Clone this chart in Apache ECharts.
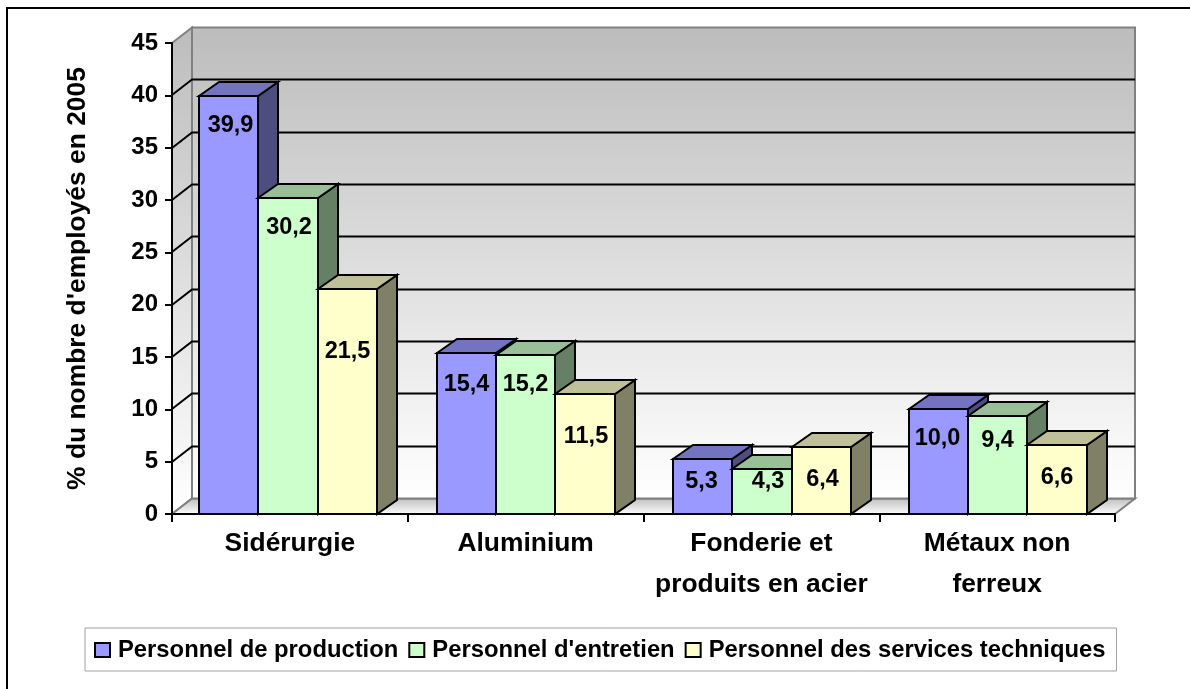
<!DOCTYPE html>
<html>
<head>
<meta charset="utf-8">
<style>html,body{margin:0;padding:0;background:#fff;overflow:hidden}#c{width:1190px;height:689px}</style>
<script src="https://cdn.jsdelivr.net/npm/echarts@6/dist/echarts.min.js"></script>
</head>
<body>
<div id="c"></div>
<script>
const categories = ['Sidérurgie', 'Aluminium', 'Fonderie et\nproduits en acier', 'Métaux non\nferreux'];
const seriesNames = ['Personnel de production', "Personnel d'entretien", 'Personnel des services techniques'];
const production = [39.9, 15.4, 5.3, 10.0];
const entretien = [30.2, 15.2, 4.3, 9.4];
const services = [21.5, 11.5, 6.4, 6.6];
const gridValues = [5, 10, 15, 20, 25, 30, 35, 40];
const axisTitle = "% du nombre d'employés en 2005";

const FONT = '"Liberation Sans", Arial, sans-serif';
const faces = [
  { front: '#9999FF', top: '#7373BF', side: '#4D4D80' },
  { front: '#CCFFCC', top: '#99BF99', side: '#668066' },
  { front: '#FFFFCC', top: '#BFBF99', side: '#808066' }
];
// distance in px from a bar's top to the middle of its value label, per category then series
const labelDrop = [[30, 30, 63], [32, 30, 43], [23, 13, 33], [30, 25, 33]];
// sideways nudges (px) of value labels and bar groups, layout only
const labelNudge = [[2, 1, 0], [0, 0, 1], [-1, 6, 1], [-1, 0, 0]];
const groupShift = [-1.9, 0.2, 0.7, 0.7];
const BAR_W = 59.2, DX = 20, DY = 14, WALL_DX = 20, WALL_DY = 15.5;

function wallItem(params, api) {
  const c = params.coordSys;
  const l = c.x, r = c.x + c.width, t = c.y, b = c.y + c.height;
  const fade = { type: 'linear', x: 0, y: 0, x2: 0, y2: 1, colorStops: [{ offset: 0, color: '#BCBCBC' }, { offset: 1, color: '#FFFFFF' }] };
  const kids = [
    { type: 'polygon', shape: { points: [[l, t], [l + WALL_DX, t - WALL_DY], [l + WALL_DX, b - WALL_DY], [l, b]] }, style: { fill: fade, stroke: '#808080', lineWidth: 2 } },
    { type: 'polygon', shape: { points: [[l, b], [l + WALL_DX, b - WALL_DY], [r + WALL_DX, b - WALL_DY], [r, b]] }, style: { fill: fade, stroke: '#808080', lineWidth: 2 } },
    { type: 'rect', shape: { x: l + WALL_DX, y: t - WALL_DY, width: c.width, height: c.height }, style: { fill: fade, stroke: '#808080', lineWidth: 2 } }
  ];
  gridValues.forEach(v => {
    const y = Math.round(api.coord([0, v])[1]);
    kids.push({ type: 'polyline', shape: { points: [[l, y], [l + WALL_DX, y - WALL_DY], [r + WALL_DX, y - WALL_DY]] }, style: { fill: 'none', stroke: '#000', lineWidth: 2 } });
  });
  return { type: 'group', children: kids };
}

function barItem(si) {
  return function (params, api) {
    const cat = api.value(0), val = api.value(1);
    const base = api.coord([cat, 0]), tip = api.coord([cat, val]);
    const mid = base[0] + groupShift[cat];
    const x0 = Math.round(mid + (si - 1.5) * BAR_W);
    const x1 = Math.round(mid + (si - 0.5) * BAR_W);
    const yt = Math.round(tip[1]), yb = Math.round(base[1]);
    const f = faces[si];
    const line = { stroke: '#000', lineWidth: 2, lineJoin: 'miter' };
    return {
      type: 'group',
      children: [
        { type: 'polygon', shape: { points: [[x1, yt], [x1 + DX, yt - DY], [x1 + DX, yb - DY], [x1, yb]] }, style: Object.assign({ fill: f.side }, line) },
        { type: 'polygon', shape: { points: [[x0, yt], [x0 + DX, yt - DY], [x1 + DX, yt - DY], [x1, yt]] }, style: Object.assign({ fill: f.top }, line) },
        { type: 'rect', shape: { x: x0, y: yt, width: x1 - x0, height: yb - yt }, style: Object.assign({ fill: f.front }, line) },
        { type: 'text', style: { text: val.toFixed(1).replace('.', ','), x: (x0 + x1) / 2 + labelNudge[cat][si], y: yt + labelDrop[cat][si], fill: '#000', font: 'bold 23.5px ' + FONT, textAlign: 'center', textVerticalAlign: 'middle' } }
      ]
    };
  };
}

const seriesValues = [production, entretien, services];
const chart = echarts.init(document.getElementById('c'), null, { renderer: 'canvas' });
chart.setOption({
  animation: false,
  backgroundColor: '#fff',
  graphic: [{ type: 'rect', z: 0, shape: { x: 7, y: 8, width: 1400, height: 900 }, style: { fill: 'none', stroke: '#000', lineWidth: 2 } }],
  grid: { left: 172, right: 75, top: 43, bottom: 175, containLabel: false },
  legend: {
    left: 85, top: 628, padding: [10, 11, 9, 9], itemGap: 10, itemWidth: 15, itemHeight: 14,
    borderColor: '#A0A0A0', borderWidth: 1, backgroundColor: '#fff', selectedMode: false,
    textStyle: { color: '#000', fontFamily: FONT, fontWeight: 'bold', fontSize: 23.8, padding: [0, 0, 0, 3] },
    data: seriesNames.map((n, i) => ({ name: n, icon: 'rect', itemStyle: { color: faces[i].front, borderColor: '#000', borderWidth: 2 } }))
  },
  xAxis: {
    type: 'category', data: categories, z: 3,
    axisLine: { show: true, lineStyle: { color: '#000', width: 2 } },
    axisTick: { show: true, length: 8, lineStyle: { color: '#000', width: 2 } },
    axisLabel: { color: '#000', fontFamily: FONT, fontWeight: 'bold', fontSize: 26.4, margin: 9, lineHeight: 41, interval: 0 },
    splitLine: { show: false }
  },
  yAxis: {
    type: 'value', min: 0, max: 45, interval: 5, z: 3,
    name: axisTitle, nameLocation: 'middle', nameRotate: 90, nameGap: 81,
    nameTextStyle: { color: '#000', fontFamily: FONT, fontWeight: 'bold', fontSize: 26.4 },
    axisLine: { show: true, lineStyle: { color: '#000', width: 2 } },
    axisTick: { show: true, length: 7, lineStyle: { color: '#000', width: 2 } },
    axisLabel: { color: '#000', fontFamily: FONT, fontWeight: 'bold', fontSize: 24, margin: 14 },
    splitLine: { show: false }
  },
  series: [
    { type: 'custom', name: 'walls', z: 1, silent: true, renderItem: wallItem, data: [[0, 0]], encode: { x: 0, y: 1 }, clip: false }
  ].concat(seriesNames.map((n, i) => ({
    type: 'custom', name: n, z: 4 + i, renderItem: barItem(i), clip: false,
    itemStyle: { color: faces[i].front },
    encode: { x: 0, y: 1 },
    data: seriesValues[i].map((v, k) => [k, v])
  })))
});
</script>
</body>
</html>
